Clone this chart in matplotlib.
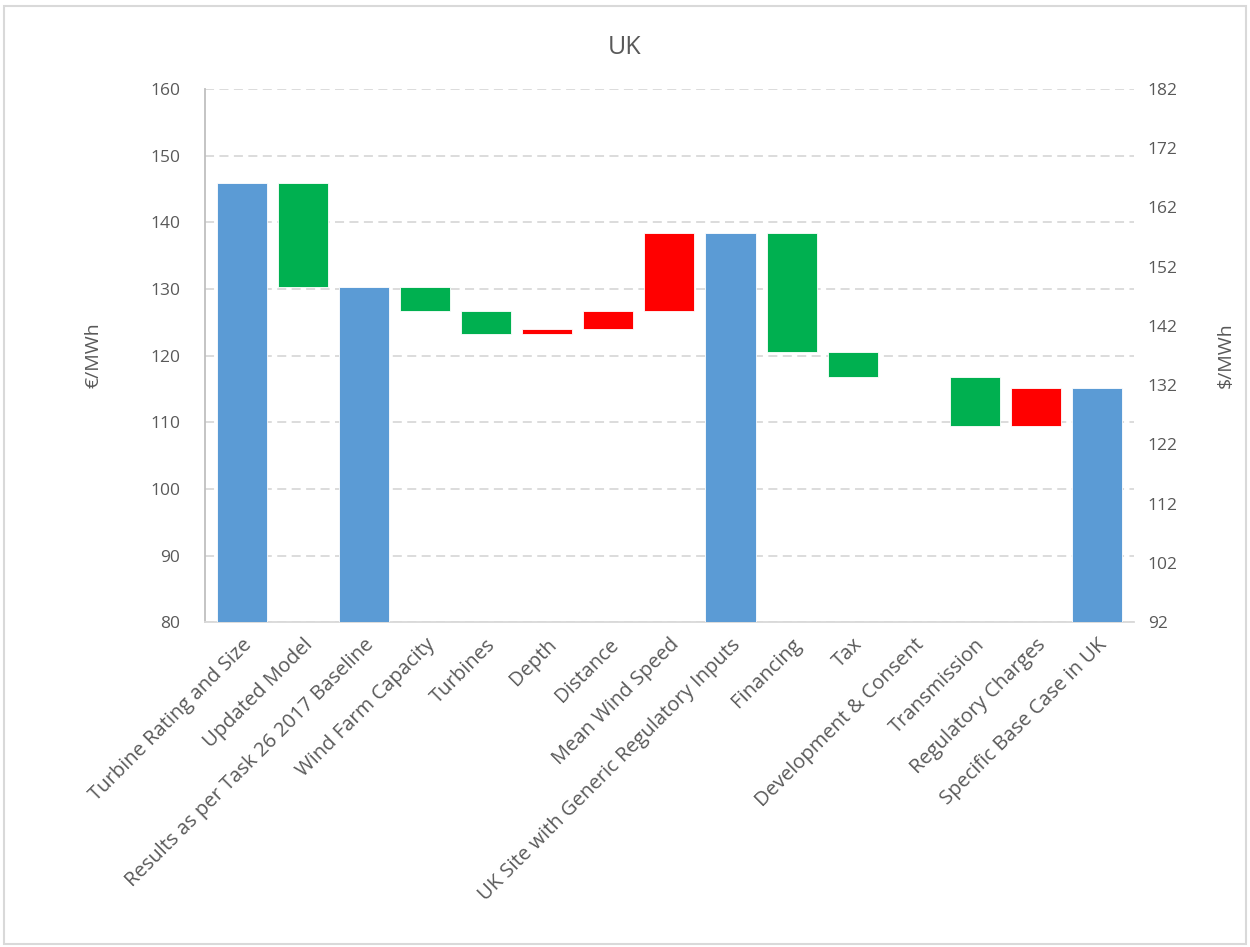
import matplotlib
matplotlib.use('Agg')

import matplotlib.pyplot as plt
from matplotlib.patches import Rectangle
import numpy as np

# waterfall steps (EUR/MWh); totals are absolute levels, the rest are changes
categories = [
    "Turbine Rating and Size", "Updated Model", "Results as per Task 26 2017 Baseline",
    "Wind Farm Capacity", "Turbines", "Depth", "Distance", "Mean Wind Speed",
    "UK Site with Generic Regulatory Inputs", "Financing", "Tax",
    "Development & Consent", "Transmission", "Regulatory Charges",
    "Specific Base Case in UK",
]
values = [145.9, -15.6, 130.3, -3.6, -3.4, 0.7, 2.7, 11.7, 138.4, -17.8, -3.8, 0.0, -7.3, 5.6, 115.1]
is_total = [True, False, True, False, False, False, False, False, True,
            False, False, False, False, False, True]

left_ticks = [80, 90, 100, 110, 120, 130, 140, 150, 160]
right_ticks = [92, 102, 112, 122, 132, 142, 152, 162, 172, 182]

BLUE = "#5B9BD5"
GREEN = "#00B050"
RED = "#FF0000"
TXT = "#595959"

plt.rcParams['font.family'] = ['Open Sans', 'DejaVu Sans']

bottoms, heights, colors = [], [], []
level = 0.0
for v, tot in zip(values, is_total):
    if tot:
        level = v
        bottoms.append(0)
        heights.append(v)
        colors.append(BLUE)
    else:
        new = level + v
        bottoms.append(min(level, new))
        heights.append(abs(v))
        colors.append(GREEN if v < 0 else RED)
        level = new

fig = plt.figure(figsize=(12.5, 9.47), dpi=100)
ax = fig.add_axes([0.164, 0.343, 0.743, 0.563])

x = np.arange(len(categories))
ax.bar(x, heights, bottom=bottoms, color=colors, width=0.82,
       edgecolor="white", linewidth=0.6, zorder=3)

ax.set_ylim(80, 160)
ax.set_xlim(-0.6, len(categories) - 0.4)
ax.set_yticks(left_ticks)
ax.yaxis.grid(True, color="#D9D9D9", linestyle=(0, (5, 3)), linewidth=1.3, zorder=0)
ax.set_axisbelow(True)

ax.set_xticks(x)
ax.set_xticklabels(categories, rotation=45, ha="right", rotation_mode="anchor",
                   fontsize=14.5, color=TXT)
ax.tick_params(axis="x", length=0, pad=9)
ax.tick_params(axis="y", length=0, labelsize=12.5, labelcolor=TXT, pad=18)

for s in ["top", "right"]:
    ax.spines[s].set_visible(False)
ax.spines["left"].set_color("#BFBFBF")
ax.spines["left"].set_linewidth(1.3)
ax.spines["bottom"].set_color("#D9D9D9")
ax.spines["bottom"].set_linewidth(1.3)

ax.set_ylabel("€/MWh", fontsize=14, color=TXT, labelpad=34)

sec = ax.secondary_yaxis("right", functions=(lambda v: v * 1.125 + 2, lambda v: (v - 2) / 1.125))
sec.set_yticks(right_ticks)
sec.tick_params(length=0, labelsize=12.5, labelcolor=TXT, pad=10)
sec.spines["right"].set_visible(False)
sec.set_ylabel("$/MWh", fontsize=14, color=TXT, labelpad=28)

fig.text(0.5, 0.95, "UK", ha="center", va="center", fontsize=18, color=TXT)

# light border round the chart area
fig.patches.append(Rectangle((0.003, 0.003), 0.994, 0.991, transform=fig.transFigure,
                             fill=False, edgecolor="#D9D9D9", linewidth=1.5))

plt.savefig("out.png", dpi=100)
plt.close()
